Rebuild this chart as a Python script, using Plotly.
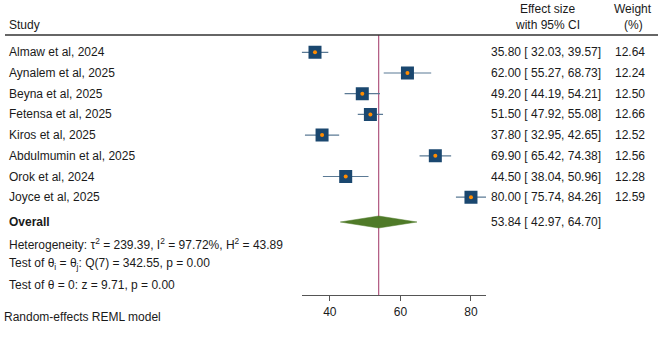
import plotly.graph_objects as go

studies = ["Almaw et al, 2024", "Aynalem et al, 2025", "Beyna et al, 2025", "Fetensa et al, 2025",
           "Kiros et al, 2025", "Abdulmumin et al, 2025", "Orok et al, 2024", "Joyce et al, 2025"]
effect = [35.80, 62.00, 49.20, 51.50, 37.80, 69.90, 44.50, 80.00]
ci_low = [32.03, 55.27, 44.19, 47.92, 32.95, 65.42, 38.04, 75.74]
ci_high = [39.57, 68.73, 54.21, 55.08, 42.65, 74.38, 50.96, 84.26]
weights = [12.64, 12.24, 12.50, 12.66, 12.52, 12.56, 12.28, 12.59]
overall = [53.84, 42.97, 64.70]
x_ticks = [40, 60, 80]
stats_lines = [
    "Heterogeneity: τ<sup>2</sup> = 239.39, I<sup>2</sup> = 97.72%, H<sup>2</sup> = 43.89",
    "Test of θ<sub>i</sub> = θ<sub>j</sub>: Q(7) = 342.55, p = 0.00",
    "Test of θ = 0: z = 9.71, p = 0.00",
]

W, H = 660, 337
FONT = "Arial, 'Liberation Sans', sans-serif"
TXT = "#1a1a1a"
y0, step = 52.3, 20.7
rows = [y0 + step * i for i in range(len(studies))]
y_overall = 222
y_stats = [243.5, 264.3, 285]
y_axis_line = 295
y_header_line = 35

fig = go.Figure()

# CI lines
fig.add_trace(go.Scatter(
    x=effect, y=rows, mode="markers",
    marker=dict(size=1, color="rgba(0,0,0,0)"),
    error_x=dict(type="data", symmetric=False,
                 array=[h - e for h, e in zip(ci_high, effect)],
                 arrayminus=[e - l for e, l in zip(effect, ci_low)],
                 color="#5b7a95", thickness=1.2, width=0),
    hoverinfo="skip", showlegend=False))
# squares
fig.add_trace(go.Scatter(
    x=effect, y=rows, mode="markers",
    marker=dict(symbol="square", size=13, color="#1a476f", line=dict(width=0)),
    showlegend=False))
# dots
fig.add_trace(go.Scatter(
    x=effect, y=rows, mode="markers",
    marker=dict(symbol="circle", size=4, color="#ff8c00", line=dict(width=0)),
    showlegend=False))
# diamond
dh = 6
fig.add_trace(go.Scatter(
    x=[overall[1], overall[0], overall[2], overall[0], overall[1]],
    y=[y_overall, y_overall - dh, y_overall, y_overall + dh, y_overall],
    mode="lines", fill="toself", fillcolor="#4f7a28",
    line=dict(color="#4f7a28", width=0.5), showlegend=False))

# vertical overall line
fig.add_shape(type="line", xref="x", yref="y", x0=overall[0], x1=overall[0],
              y0=y_header_line, y1=y_axis_line, line=dict(color="#b0577f", width=1.2), layer="below")
# header line
fig.add_shape(type="line", xref="paper", yref="y", x0=5 / W, x1=658 / W,
              y0=y_header_line, y1=y_header_line, line=dict(color="#333333", width=1.5))

def txt(x, y, s, anchor="left", bold=False):
    fig.add_annotation(x=x / W, y=y, xref="paper", yref="y", text=("<b>%s</b>" % s) if bold else s,
                       showarrow=False, xanchor=anchor, yanchor="middle",
                       font=dict(family=FONT, size=12, color=TXT))

txt(7, 25, "Study")
txt(547, 8.5, "Effect size", "center")
txt(547, 25, "with 95% CI", "center")
txt(633, 8.5, "Weight", "center")
txt(633, 25, "(%)", "center")

for name, e, lo, hi, w, y in zip(studies, effect, ci_low, ci_high, weights, rows):
    txt(7, y, name)
    txt(603, y, "%.2f [ %.2f, %.2f]" % (e, lo, hi), "right")
    txt(647, y, "%.2f" % w, "right")

txt(7, y_overall, "Overall", bold=True)
txt(603, y_overall, "%.2f [ %.2f, %.2f]" % (overall[0], overall[1], overall[2]), "right")
for s, y in zip(stats_lines, y_stats):
    txt(7, y, s)
txt(2, 316.7, "Random-effects REML model")

x_lo, x_hi = min(ci_low), max(ci_high)
fig.update_layout(
    width=W, height=H, margin=dict(l=0, r=0, t=0, b=0),
    paper_bgcolor="white", plot_bgcolor="white",
    xaxis=dict(range=[x_lo, x_hi], domain=[301.7 / W, 486 / W], anchor="free",
               position=1 - y_axis_line / H, showline=True, linecolor="#555555", linewidth=1.2,
               ticks="outside", ticklen=5, tickcolor="#555555", tickvals=x_ticks,
               showgrid=False, zeroline=False,
               tickfont=dict(family=FONT, size=12, color=TXT)),
    yaxis=dict(range=[H, 0], domain=[0, 1], visible=False, showgrid=False, zeroline=False),
    font=dict(family=FONT, size=12, color=TXT),
)
fig.write_html("out.html")
